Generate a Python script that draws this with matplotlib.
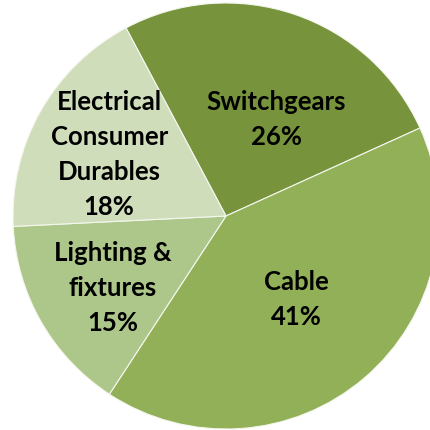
import numpy as np
import matplotlib.pyplot as plt

categories = ["Switchgears", "Cable", "Lighting &\nfixtures", "Electrical\nConsumer\nDurables"]
shares = [26, 41, 15, 18]
colors = ["#77933C", "#92B058", "#ADC78A", "#D0DDBB"]
# label placement: radius fraction and angle shift from wedge middle
label_r = [0.51, 0.51, 0.63, 0.62]
label_shift = [-8.7, -0.5, 2.6, 1.8]

plt.rcParams['font.family'] = ['Lato', 'DejaVu Sans']

fig = plt.figure(figsize=(4.3, 4.3), dpi=100)
ax = fig.add_axes([13/430, 1/430, 426/430, 426/430])

wedges, _ = ax.pie(shares, colors=colors, startangle=118, counterclock=False,
                   radius=1, wedgeprops=dict(edgecolor="#f4f7ee", linewidth=0.8))

for w, name, val, r, sh in zip(wedges, categories, shares, label_r, label_shift):
    mid = np.deg2rad((w.theta1 + w.theta2) / 2 + sh)
    ax.text(r*np.cos(mid), r*np.sin(mid), f"{name}\n{val}%", ha="center", va="center",
            fontsize=18.5, fontweight="bold", linespacing=1.55, color="black")

ax.set_xlim(-1, 1)
ax.set_ylim(-1, 1)
ax.set_aspect("equal")
fig.savefig("out.png", dpi=100)
